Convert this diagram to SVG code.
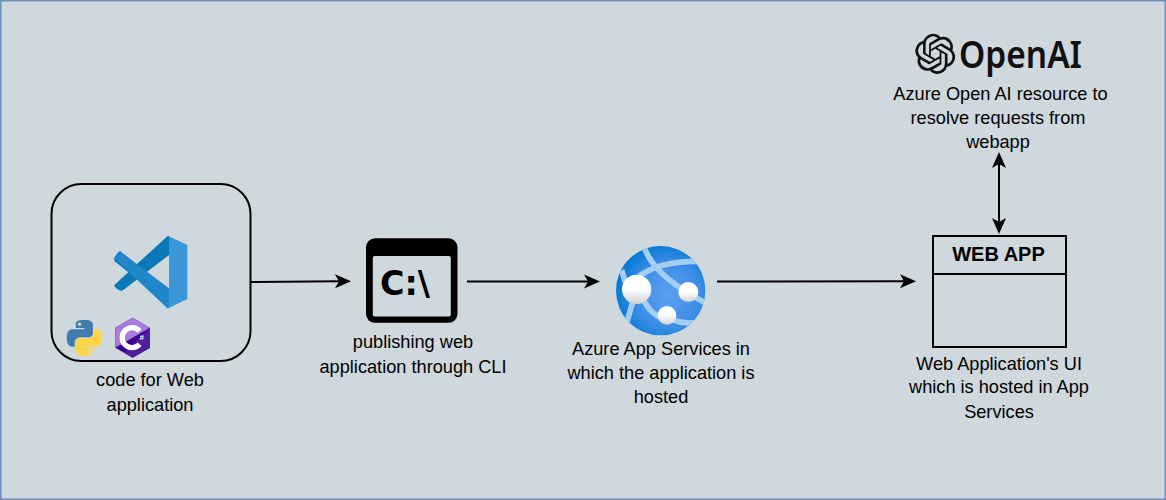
<svg xmlns="http://www.w3.org/2000/svg" width="1166" height="500" viewBox="0 0 1166 500">
<style>
.lbl{font-family:"Liberation Sans",Arial,sans-serif;font-size:18.2px;fill:#000;text-anchor:middle}
.conn{fill:none;stroke:#000;stroke-width:2}
.shape{fill:none;stroke:#000;stroke-width:2}
</style>
<defs>
<marker id="arrow" markerUnits="userSpaceOnUse" markerWidth="18" markerHeight="16" refX="4" refY="8" orient="auto-start-reverse" viewBox="0 0 18 16">
<path d="M0 1L16 8L0 15L4 8Z" fill="#000"/>
</marker>
<radialGradient id="globeFill" cx="0.58" cy="0.55" r="0.6">
<stop offset="0" stop-color="#5ea0ef"/><stop offset="0.6" stop-color="#3d8ee6"/><stop offset="1" stop-color="#0078d4"/>
</radialGradient>
<linearGradient id="ball" x1="0" y1="0" x2="0" y2="1">
<stop offset="0" stop-color="#fff"/><stop offset="0.5" stop-color="#fff"/><stop offset="1" stop-color="#d2d2d2"/>
</linearGradient>
<clipPath id="globeClip"><circle cx="932" cy="197" r="134"/></clipPath>
</defs>
<rect x="0.75" y="0.75" width="1164.5" height="498.5" fill="#cfd8dc" stroke="#6c8ebf" stroke-width="1.5"/>

<g id="connectors">
<path class="conn" d="M251 282L339 281.3" marker-end="url(#arrow)"/>
<path class="conn" d="M467 281.5L588 281.5" marker-end="url(#arrow)"/>
<path class="conn" d="M717 281.5L904 281.2" marker-end="url(#arrow)"/>
<path class="conn" d="M999 164L999 222" marker-start="url(#arrow)" marker-end="url(#arrow)"/>
</g>

<g id="code-node">
<rect class="shape" x="51.5" y="184" width="199" height="177" rx="30" ry="30"/>
<g id="vscode-icon" transform="translate(40 175) scale(.33333)">
<path d="M383 183L290 268L240 228Q233 231 223 248L223 258L265 292L223 330L223 334Q232 346 246 348L387 240L387 183Z" fill="#0b78ba"/>
<path d="M223 250Q232 235 246 234L387 340L387 400L382 400Z" fill="#2187cb"/>
<path d="M385 183L442 210L442 372L385 400Q387 398 387 390V190Q387 186 385 183Z" fill="#3a98d9"/>
</g>
<g id="python-icon" transform="translate(66.7 320) scale(.3185)">
<path fill="#3f7cad" d="M54.919 0.001c-4.584.022-8.961.413-12.812 1.095C30.76 3.099 28.7 7.295 28.7 15.032v10.219h26.813v3.406H18.638c-7.793 0-14.616 4.684-16.75 13.594-2.462 10.213-2.571 16.586 0 27.25 1.906 7.938 6.458 13.594 14.25 13.594h9.219V70.844c0-8.85 7.657-16.656 16.75-16.656h26.781c7.454 0 13.406-6.138 13.406-13.625V15.032c0-7.266-6.13-12.725-13.406-13.937C64.282.328 59.502-.02 54.919.001zM40.419 8.22c2.77 0 5.031 2.299 5.031 5.125 0 2.816-2.262 5.094-5.031 5.094-2.779 0-5.031-2.277-5.031-5.094 0-2.826 2.252-5.125 5.031-5.125z"/>
<path fill="#ffd445" d="M85.638 28.657v11.906c0 9.231-7.826 17-16.75 17H42.106c-7.336 0-13.406 6.278-13.406 13.625v25.531c0 7.266 6.319 11.54 13.406 13.625 8.487 2.496 16.626 2.947 26.781 0 6.75-1.954 13.406-5.888 13.406-13.625V86.5H55.512v-3.406h40.188c7.793 0 10.696-5.436 13.406-13.594 2.799-8.399 2.68-16.476 0-27.25-1.926-7.757-5.604-13.594-13.406-13.594H85.638zM70.575 93.313c2.779 0 5.031 2.277 5.031 5.094 0 2.826-2.252 5.125-5.031 5.125-2.77 0-5.031-2.299-5.031-5.125 0-2.816 2.262-5.094 5.031-5.094z"/>
</g>
<g id="csharp-icon" transform="translate(40 175) scale(.33333)">
<path d="M278 428L330 458V518L278 548L226 518V458Z" fill="#390091"/>
<path d="M278 428L330 458L226 518V458Z" fill="#a77bdc"/>
<path d="M330 458V518L278 548L252 533Z" fill="#4f1d9e"/>
<path d="M299 468A30 30 0 1 0 299 508" fill="none" stroke="#fff" stroke-width="16"/>
<text x="305" y="496" font-family="'Liberation Sans',sans-serif" font-weight="700" font-size="24" fill="#fff" text-anchor="middle">#</text>
</g>
<text class="lbl" x="150" y="386">code for Web</text>
<text class="lbl" x="150" y="411">application</text>
</g>

<g id="cli-node">
<rect x="366" y="238.3" width="91.5" height="84.5" rx="9" fill="#000"/>
<rect x="372.8" y="256" width="78" height="60.6" rx="2" fill="#cfd8dc"/>
<text x="380" y="295" font-family="'DejaVu Sans',sans-serif" font-weight="700" font-size="34" fill="#000" textLength="50" lengthAdjust="spacingAndGlyphs">C:\</text>
<text class="lbl" x="413" y="348">publishing web</text>
<text class="lbl" x="413" y="373">application through CLI</text>
</g>

<g id="app-services-node">
<g transform="translate(350 225) scale(.33333)">
<circle cx="932" cy="197" r="134" fill="url(#globeFill)"/>
<g clip-path="url(#globeClip)" fill="none" stroke="#a4cdf2" stroke-width="17">
<path d="M882 65C900 120 960 180 1075 238"/>
<path d="M860 160C900 125 970 105 1075 110"/>
<path d="M880 225C900 260 915 270 935 280"/>
<path d="M965 283C1000 298 1030 295 1060 290"/>
<path d="M815 135C825 165 832 190 835 215"/>
<path d="M850 225C840 260 830 290 825 320"/>
</g>
<circle cx="860" cy="193" r="44" fill="url(#ball)"/>
<circle cx="1015" cy="201" r="30" fill="url(#ball)"/>
<circle cx="951" cy="271" r="28" fill="url(#ball)"/>
</g>
<text class="lbl" x="661" y="355">Azure App Services in</text>
<text class="lbl" x="661" y="379">which the application is</text>
<text class="lbl" x="661" y="403">hosted</text>
</g>

<g id="webapp-node">
<rect x="933" y="236" width="133" height="111" fill="none" stroke="#000" stroke-width="2"/>
<path d="M933 274H1066" fill="none" stroke="#000" stroke-width="2"/>
<text x="998.5" y="261" font-family="'Liberation Sans',Arial,sans-serif" font-weight="700" font-size="20" fill="#000" text-anchor="middle">WEB APP</text>
<text class="lbl" x="999" y="370">Web Application's UI</text>
<text class="lbl" x="999" y="393">which is hosted in App</text>
<text class="lbl" x="999" y="418">Services</text>
</g>

<g id="openai-node">
<path transform="translate(915.2 33.8) scale(1.67)" fill="#111" d="M22.2819 9.8211a5.9847 5.9847 0 0 0-.5157-4.9108 6.0462 6.0462 0 0 0-6.5098-2.9A6.0651 6.0651 0 0 0 4.9807 4.1818a5.9847 5.9847 0 0 0-3.9977 2.9 6.0462 6.0462 0 0 0 .7427 7.0966 5.98 5.98 0 0 0 .511 4.9107 6.051 6.051 0 0 0 6.5146 2.9001A5.9847 5.9847 0 0 0 13.2599 24a6.0557 6.0557 0 0 0 5.7718-4.2058 5.9894 5.9894 0 0 0 3.9977-2.9001 6.0557 6.0557 0 0 0-.7475-7.0729zm-9.022 12.6081a4.4755 4.4755 0 0 1-2.8764-1.0408l.1419-.0804 4.7783-2.7582a.7948.7948 0 0 0 .3927-.6813v-6.7369l2.02 1.1686a.071.071 0 0 1 .038.052v5.5826a4.504 4.504 0 0 1-4.4945 4.4944zm-9.6607-4.1254a4.4708 4.4708 0 0 1-.5346-3.0137l.142.0852 4.783 2.7582a.7712.7712 0 0 0 .7806 0l5.8428-3.3685v2.3324a.0804.0804 0 0 1-.0332.0615L9.74 19.9502a4.4992 4.4992 0 0 1-6.1408-1.6464zM2.3408 7.8956a4.485 4.485 0 0 1 2.3655-1.9728V11.6a.7664.7664 0 0 0 .3879.6765l5.8144 3.3543-2.0201 1.1685a.0757.0757 0 0 1-.071 0l-4.8303-2.7865A4.504 4.504 0 0 1 2.3408 7.872zm16.5963 3.8558L13.1038 8.364 15.1192 7.2a.0757.0757 0 0 1 .071 0l4.8303 2.7913a4.4944 4.4944 0 0 1-.6765 8.1042v-5.6772a.79.79 0 0 0-.407-.667zm2.0107-3.0231l-.142-.0852-4.7735-2.7818a.7759.7759 0 0 0-.7854 0L9.409 9.2297V6.8974a.0662.0662 0 0 1 .0284-.0615l4.8303-2.7866a4.4992 4.4992 0 0 1 6.6802 4.66zM8.3065 12.863l-2.02-1.1638a.0804.0804 0 0 1-.038-.0567V6.0742a4.4992 4.4992 0 0 1 7.3757-3.4537l-.142.0805L8.704 5.459a.7948.7948 0 0 0-.3927.6813zm1.0976-2.3654l2.602-1.4998 2.6069 1.4998v2.9994l-2.5974 1.5093-2.6067-1.4997Z"/>
<text x="959" y="68" font-family="'Noto Sans',sans-serif" font-weight="600" font-size="37" fill="#111" textLength="123" lengthAdjust="spacingAndGlyphs">OpenAI</text>
<text class="lbl" x="1000.5" y="100">Azure Open AI resource to</text>
<text class="lbl" x="998" y="124">resolve requests from</text>
<text class="lbl" x="998" y="148">webapp</text>
</g>
</svg>
